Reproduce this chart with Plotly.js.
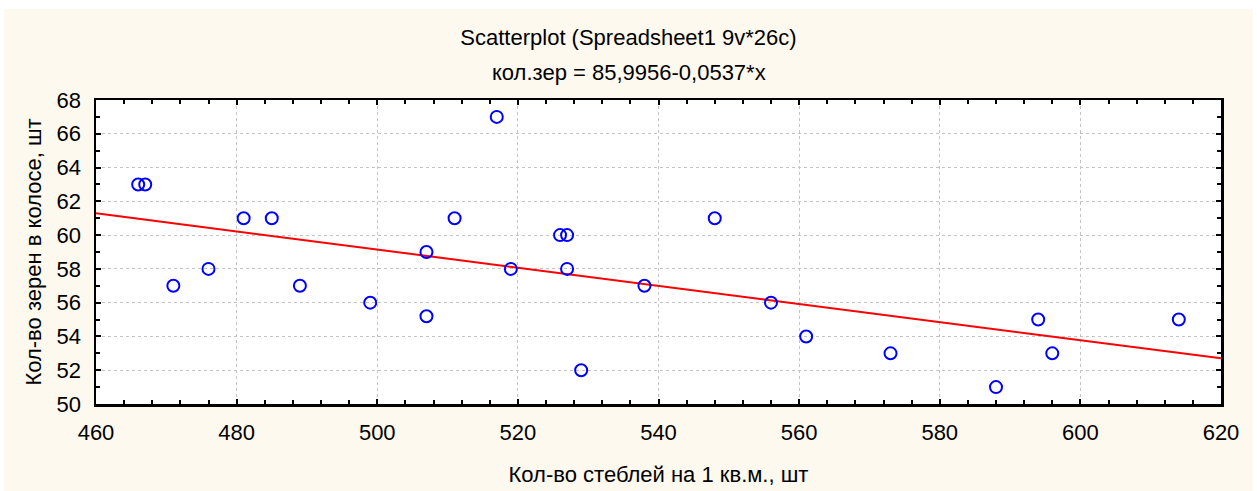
<!DOCTYPE html>
<html>
<head>
<meta charset="utf-8">
<script src="https://cdn.plot.ly/plotly-3.0.1.min.js"></script>
<style>
  html, body { margin: 0; padding: 0; background: #ffffff; }
  #chart { position: absolute; left: 4px; top: 9px; width: 1249px; height: 482px; }
</style>
</head>
<body>
<div id="chart"></div>
<script>
// Data (26 cases)
const stemsPerSqM = [466, 467, 471, 476, 481, 485, 489, 499, 507, 507, 511, 517, 519,
                     526, 527, 527, 529, 538, 548, 556, 561, 573, 588, 594, 596, 614];
const grainsPerEar = [63, 63, 57, 58, 61, 61, 57, 56, 59, 55.2, 61, 67, 58,
                      60, 60, 58, 52, 57, 61, 56, 54, 53, 51, 55, 53, 55];
// Regression from the chart subtitle: кол.зер = 85,9956-0,0537*x
const regIntercept = 85.9956;
const regSlope = -0.0537;
const xRange = [460, 620];
const yRange = [50, 68];
const titleLine1 = "Scatterplot (Spreadsheet1 9v*26c)";
const titleLine2 = "кол.зер = 85,9956-0,0537*x";
const xTitle = "Кол-во стеблей на 1 кв.м., шт";
const yTitle = "Кол-во зерен в колосе, шт";

const lineX = xRange.slice();
const lineY = lineX.map(x => regIntercept + regSlope * x);

const FONT = "Liberation Sans, Arial, sans-serif";
const FS = 22;

const traces = [
  {
    x: lineX, y: lineY, type: "scatter", mode: "lines",
    line: { color: "#ff0000", width: 2 }, hoverinfo: "skip", showlegend: false
  },
  {
    x: stemsPerSqM, y: grainsPerEar, type: "scatter", mode: "markers",
    marker: { symbol: "circle-open", size: 12, color: "#0000ff", line: { width: 2, color: "#0000ff" } },
    showlegend: false
  }
];

const axisCommon = {
  showline: true, linecolor: "#000000", linewidth: 2.5, mirror: "allticks",
  ticks: "inside", ticklen: 5, tickwidth: 2, tickcolor: "#000000",
  showgrid: true, gridcolor: "#c4c4c4", griddash: "dot", gridwidth: 1,
  zeroline: false, tickfont: { family: FONT, size: FS, color: "#000000" },
  automargin: false
};

const layout = {
  width: 1249, height: 482,
  paper_bgcolor: "#fdf9ee", plot_bgcolor: "#ffffff",
  margin: { l: 92, r: 32, t: 91, b: 87 },
  font: { family: FONT, size: FS, color: "#000000" },
  showlegend: false,
  title: {
    text: titleLine1, x: 0.5, xref: "container", xanchor: "center",
    y: 1 - 28 / 482, yref: "container", yanchor: "middle",
    font: { family: FONT, size: FS, color: "#000000" }
  },
  annotations: [
    {
      text: titleLine2, xref: "paper", yref: "paper",
      x: (624.5 - 92) / 1125, y: 1 + (91 - 63) / 304.3,
      xanchor: "center", yanchor: "middle", showarrow: false,
      font: { family: FONT, size: FS, color: "#000000" }
    }
  ],
  xaxis: Object.assign({}, axisCommon, {
    range: xRange, dtick: 20, tick0: 460,
    ticklabelstandoff: 7,
    minor: { dtick: 4, ticks: "inside", ticklen: 4, tickwidth: 2, tickcolor: "#000000", showgrid: false },
    title: { text: xTitle, standoff: 23, font: { family: FONT, size: FS, color: "#000000" } }
  }),
  yaxis: Object.assign({}, axisCommon, {
    range: yRange, dtick: 2, tick0: 50,
    ticklabelstandoff: 8,
    minor: { dtick: 1, ticks: "inside", ticklen: 4, tickwidth: 2, tickcolor: "#000000", showgrid: false },
    title: { text: yTitle, standoff: 9, font: { family: FONT, size: FS, color: "#000000" } }
  })
};

Plotly.newPlot("chart", traces, layout, { displayModeBar: false, staticPlot: true });
</script>
</body>
</html>
